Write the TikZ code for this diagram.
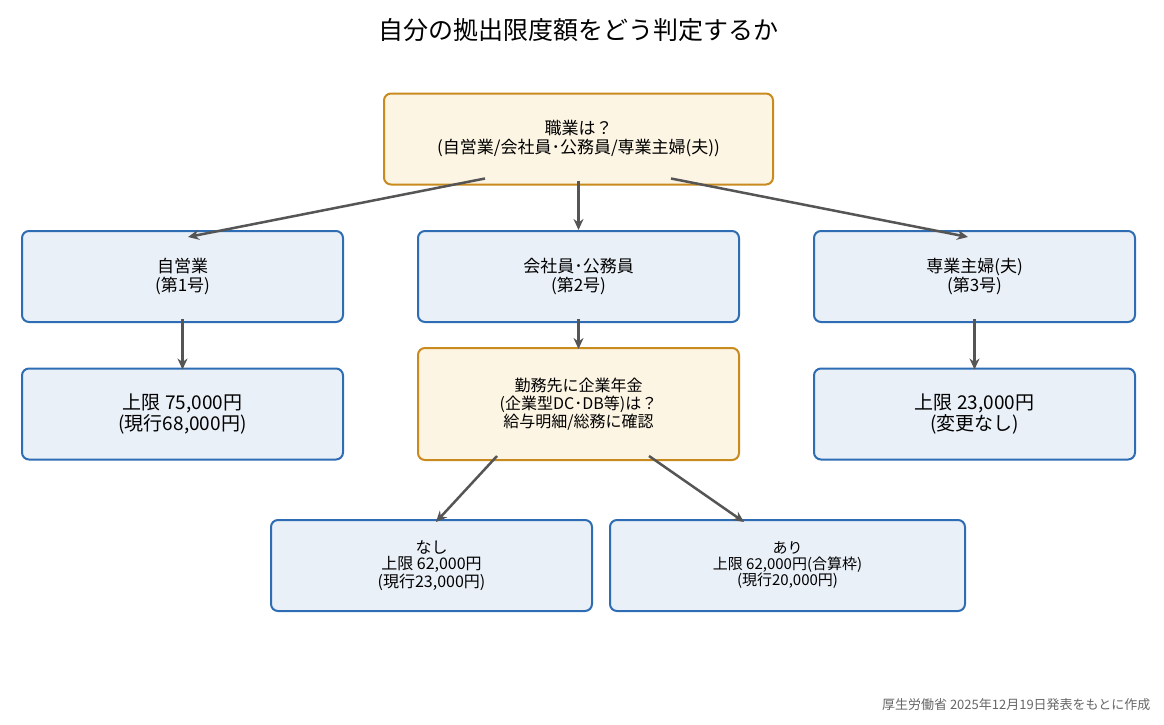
\documentclass[tikz,border=0pt]{standalone}
\usepackage{fontspec}
\setmainfont{Noto Sans CJK JP}
\usetikzlibrary{positioning,calc,arrows.meta}
\definecolor{askline}{HTML}{C98A1E}
\definecolor{askfill}{HTML}{FDF5E4}
\definecolor{boxline}{HTML}{2E6DB4}
\definecolor{boxfill}{HTML}{EAF0F8}
\definecolor{arrowgray}{HTML}{555555}
\begin{document}
\begin{tikzpicture}[x=1pt,y=-1pt,
box/.style={rounded corners=7pt, draw=boxline, fill=boxfill, line width=2pt, minimum width=321pt, minimum height=91pt, align=center, font=\fontsize{17}{19}\selectfont},
ask/.style={box, draw=askline, fill=askfill},
arr/.style={-{Stealth[length=11pt,width=10pt]}, draw=arrowgray, line width=2.5pt}
]
\useasboundingbox (0,0) rectangle (1164,725);
%Nodes
\node (title) at (578,30) {\fontsize{25}{28}\selectfont 自分の拠出限度額をどう判定するか};
\node[ask, minimum width=389pt] (job) at (578.5,139) {職業は？\\(自営業/会社員･公務員/専業主婦(夫))};
\node[box] (self)  at (182.5,276.5) {自営業\\(第1号)};
\node[box] (corp)  at (578.5,276.5) {会社員･公務員\\(第2号)};
\node[box] (home)  at (974.5,276.5) {専業主婦(夫)\\(第3号)};
\node[box, font=\fontsize{19}{21}\selectfont] (selfcap) at (182.5,414) {上限 75,000円\\(現行68,000円)};
\node[ask, minimum height=112pt, font=\fontsize{16}{18}\selectfont] (plan) at (578.5,404) {勤務先に企業年金\\(企業型DC･DB等)は？\\給与明細/総務に確認};
\node[box, font=\fontsize{19}{21}\selectfont] (homecap) at (974.5,414) {上限 23,000円\\(変更なし)};
\node[box, font=\fontsize{16}{16}\selectfont] (noplan) at (431.5,565.5) {なし\\上限 62,000円\\(現行23,000円)};
\node[box, minimum width=355pt, font=\fontsize{15}{16}\selectfont] (hasplan) at (787.5,565.5) {あり\\上限 62,000円(合算枠)\\(現行20,000円)};
\node[anchor=east, text=gray!80!black, font=\fontsize{13}{15}\selectfont] (src) at (1154,705) {厚生労働省 2025年12月19日発表をもとに作成};
%Lines
\draw[arr] ([xshift=-93.5pt,yshift=7pt]job.south) -- ([xshift=5.5pt,yshift=-7pt]self.north);
\draw[arr] ([yshift=5pt]job.south) -- (corp.north);
\draw[arr] ([xshift=92.5pt,yshift=7pt]job.south) -- ([xshift=-6.5pt,yshift=-7pt]home.north);
\draw[arr] ([yshift=4pt]self.south) -- ([yshift=-2pt]selfcap.north);
\draw[arr] ([yshift=4pt]corp.south) -- ([yshift=-2pt]plan.north);
\draw[arr] ([yshift=4pt]home.south) -- ([yshift=-2pt]homecap.north);
\draw[arr] ([xshift=-81.5pt,yshift=5pt]plan.south) -- ([xshift=4.5pt,yshift=-3pt]noplan.north);
\draw[arr] ([xshift=70.5pt,yshift=5pt]plan.south) -- ([xshift=-43.5pt,yshift=-3pt]hasplan.north);
\end{tikzpicture}
\end{document}
